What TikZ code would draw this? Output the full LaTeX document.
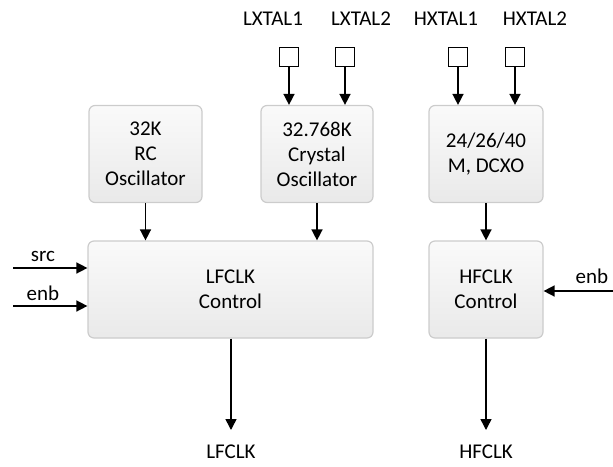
\documentclass[tikz,border=0pt]{standalone}
\usepackage{fontspec}
\setmainfont{Carlito}
\usetikzlibrary{positioning, arrows.meta}
\tikzset{
	x=1pt, y=-1pt, % pixel-like units, y grows downwards
	>={Triangle[width=11pt,length=11pt]}, % filled arrow heads
	every node/.style={font=\fontsize{21}{25}\selectfont, align=center},
	block/.style={rounded corners=6pt, draw=gray!40, line width=1.2pt,
		top color=gray!4, bottom color=gray!17, inner sep=0pt}, % grey boxes
	pad/.style={draw, line width=1.2pt, minimum size=19pt, inner sep=0pt}, % pins
	sig/.style={->, line width=1.5pt}, % signal arrows
}
\begin{document}
\begin{tikzpicture}
	\useasboundingbox (0,0) rectangle (613,466);
	% oscillators
	\node[block, minimum width=113pt, minimum height=97pt] at (145.5,154) (rc) {32K\\RC\\Oscillator};
	\node[block, minimum width=112pt, minimum height=97pt] at (317,154) (xtal) {32.768K\\Crystal\\Oscillator};
	\node[block, minimum width=114pt, minimum height=97pt] at (486,154) (dcxo) {24/26/40\\M, DCXO};
	% clock control
	\node[block, minimum width=285pt, minimum height=97pt] at (230.5,289.5) (lfclk) {LFCLK\\Control};
	\node[block, minimum width=114pt, minimum height=97pt] at (486,289.5) (hfclk) {HFCLK\\Control};
	% crystal pins
	\node[pad] at (289,57) (lx1) {};
	\node[pad] at (345,57) (lx2) {};
	\node[pad] at (458,57) (hx1) {};
	\node[pad] at (515,57) (hx2) {};
	\node at (273,19) (lx1t) {LXTAL1};
	\node at (361,19) (lx2t) {LXTAL2};
	\node at (446,19) (hx1t) {HXTAL1};
	\node at (535,19) (hx2t) {HXTAL2};
	% inputs and outputs
	\coordinate (srcin) at (13,268);
	\coordinate (enbin) at (13,306);
	\coordinate (henbin) at (613,291);
	\coordinate (lfout) at (231,430);
	\coordinate (hfout) at (486,430);
	\node at (43,256) (srct) {src};
	\node at (43,293) (enbt) {enb};
	\node at (592,276) (henbt) {enb};
	\node at (231,452) (lfoutt) {LFCLK};
	\node at (486,452) (hfoutt) {HFCLK};
	\draw[sig] (lx1) -- (lx1 |- xtal.north);
	\draw[sig] (lx2) -- (lx2 |- xtal.north);
	\draw[sig] (hx1) -- (hx1 |- dcxo.north);
	\draw[sig] (hx2) -- (hx2 |- dcxo.north);
	\draw[sig] (rc) -- (rc |- lfclk.north);
	\draw[sig] (xtal) -- (xtal |- lfclk.north);
	\draw[sig] (dcxo) -- (hfclk);
	\draw[sig] (srcin) -- (srcin -| lfclk.west);
	\draw[sig] (enbin) -- (enbin -| lfclk.west);
	\draw[sig] (henbin) -- (henbin -| hfclk.east);
	\draw[sig] (lfout |- lfclk.south) -- (lfout);
	\draw[sig] (hfclk) -- (hfout);
\end{tikzpicture}
\end{document}
